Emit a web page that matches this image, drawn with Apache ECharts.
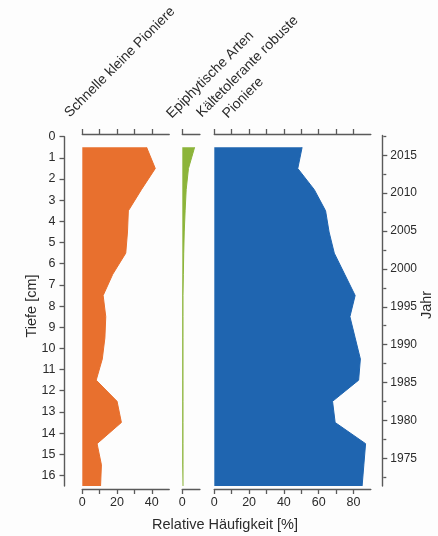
<!DOCTYPE html>
<html><head><meta charset="utf-8">
<script src="https://cdn.jsdelivr.net/npm/echarts@6/dist/echarts.min.js"></script>
<style>html,body{margin:0;padding:0;background:#fdfdfd}#c{width:438px;height:536px}</style>
</head><body><div id="c"></div>
<script>
// depth (cm) of each sample
const depths = ['0.5','1.5','2.5','3.5','4.5','5.5','6.5','7.5','8.5','9.5','10.5','11.5','12.5','13.5','14.5','15.5','16.5'];
// relative abundance [%]
const schnellePioniere = [37, 42, 34, 26.5, 26, 25, 17.5, 12, 13.5, 13, 11.5, 8, 20, 22.5, 8.5, 11, 10.5];
const epiphytischeArten = [7, 3.5, 2.2, 1.6, 1.1, 0.8, 0.6, 0.4, 0.4, 0.4, 0.4, 0.4, 0.4, 0.4, 0.4, 0.4, 0.4];
const kaelteRobustePioniere = [50.5, 48, 57.5, 64, 66, 69, 75, 81, 78, 81, 84, 83, 68, 69.5, 87, 86, 85];
// tick labels
const depthTicks = [0,1,2,3,4,5,6,7,8,9,10,11,12,13,14,15,16];
const yearMajor = [1975,1980,1985,1990,1995,2000,2005,2010,2015];
const yearMinor = [1972.5,1977.5,1982.5,1987.5,1992.5,1997.5,2002.5,2007.5,2012.5,2017.5];
const orangeTicks = [0,10,20,30,40];
const orangeLabels = [0,20,40];
const greenTicks = [0];
const blueTicks = [0,10,20,30,40,50,60,70,80];
const blueLabels = [0,20,40,60,80];

const FONT = '"Liberation Sans", Arial, sans-serif';
const AX = '#5a5a5a';
const TXT = '#2b2b2b';
const C_OR = '#E8702E', C_GR = '#8CB43A', C_BL = '#1F65B0';
const plain = v => String(v);

const chart = echarts.init(document.getElementById('c'), null, {renderer: 'canvas'});

function bottomAxis(grid, max, ticks, labels) {
  return {
    type: 'value', gridIndex: grid, position: 'bottom', offset: 3, min: 0, max: max,
    axisLine: {show: true, lineStyle: {color: AX, width: 1.4}},
    axisTick: {show: true, customValues: ticks, length: 5, lineStyle: {color: AX, width: 1.3}},
    axisLabel: {show: true, customValues: labels, formatter: plain, margin: 7, fontSize: 12.5, color: TXT, fontFamily: FONT},
    splitLine: {show: false}
  };
}
function topAxis(grid, max, ticks, offset) {
  return {
    type: 'value', gridIndex: grid, position: 'top', offset: offset, min: 0, max: max,
    axisLine: {show: true, lineStyle: {color: AX, width: 1.4}},
    axisTick: {show: true, customValues: ticks, length: 5, lineStyle: {color: AX, width: 1.3}},
    axisLabel: {show: false},
    splitLine: {show: false}
  };
}
function catAxis(grid) {
  return {type: 'category', gridIndex: grid, data: depths, inverse: true, boundaryGap: false, show: false};
}
function area(name, xi, yi, data, color, lw) {
  return {
    name: name, type: 'line', xAxisIndex: xi, yAxisIndex: yi, data: data,
    symbol: 'none', smooth: false, silent: true, animation: false,
    lineStyle: {color: color, width: lw},
    areaStyle: {color: color, opacity: 1}
  };
}

const panelTop = 147.3, panelBottom = 486;
const option = {
  backgroundColor: '#fdfdfd',
  animation: false,
  textStyle: {fontFamily: FONT},
  grid: [
    {left: 64.5, top: 136.7, width: 1, height: panelBottom - 136.7, outerBoundsMode: 'none', containLabel: false},
    {left: 82.3, top: panelTop, width: 86.9, height: panelBottom - panelTop, outerBoundsMode: 'none', containLabel: false},
    {left: 182.3, top: panelTop, width: 17.6, height: panelBottom - panelTop, outerBoundsMode: 'none', containLabel: false},
    {left: 214.3, top: panelTop, width: 156.5, height: panelBottom - panelTop, outerBoundsMode: 'none', containLabel: false},
    {left: 382.3, top: 135.5, width: 1, height: panelBottom - 135.5, outerBoundsMode: 'none', containLabel: false}
  ],
  xAxis: [
    {type: 'value', gridIndex: 0, show: false, min: 0, max: 1},
    bottomAxis(1, 50, orangeTicks, orangeLabels),
    topAxis(1, 50, orangeTicks, 13.3),
    bottomAxis(2, 10, greenTicks, greenTicks),
    topAxis(2, 10, greenTicks, 13.3),
    bottomAxis(3, 90, blueTicks, blueLabels),
    topAxis(3, 90, blueTicks, 13.3),
    {type: 'value', gridIndex: 4, show: false, min: 0, max: 1}
  ],
  yAxis: [
    {
      type: 'value', gridIndex: 0, position: 'left', inverse: true, min: 0, max: 16.5,
      axisLine: {show: true, lineStyle: {color: AX, width: 1.4}},
      axisTick: {show: true, customValues: depthTicks, length: 5, lineStyle: {color: AX, width: 1.3}},
      axisLabel: {show: true, customValues: depthTicks, formatter: plain, margin: 9, fontSize: 12.5, color: TXT, fontFamily: FONT},
      splitLine: {show: false}
    },
    catAxis(1), catAxis(2), catAxis(3),
    {
      type: 'value', gridIndex: 4, position: 'right', min: 1971.35, max: 2017.6,
      axisLine: {show: true, lineStyle: {color: AX, width: 1.4}},
      axisTick: {show: true, customValues: yearMajor, length: 5, lineStyle: {color: AX, width: 1.3}},
      axisLabel: {show: true, customValues: yearMajor, formatter: plain, margin: 7, fontSize: 12, color: TXT, fontFamily: FONT},
      splitLine: {show: false}
    },
    {
      type: 'value', gridIndex: 4, position: 'right', min: 1971.35, max: 2017.6,
      axisLine: {show: false},
      axisTick: {show: true, customValues: yearMinor, length: 3, lineStyle: {color: AX, width: 1.3}},
      axisLabel: {show: false},
      splitLine: {show: false}
    }
  ],
  series: [
    area('Schnelle kleine Pioniere', 1, 1, schnellePioniere, C_OR, 1),
    area('Epiphytische Arten', 3, 2, epiphytischeArten, C_GR, 1),
    area('Kältetolerante robuste Pioniere', 5, 3, kaelteRobustePioniere, C_BL, 1)
  ],
  graphic: [
    {type: 'text', x: 72, y: 120, rotation: Math.PI / 4, style: {text: 'Schnelle kleine Pioniere', fill: TXT, font: '14px ' + FONT, align: 'left', verticalAlign: 'bottom'}},
    {type: 'text', x: 174, y: 121, rotation: Math.PI / 4, style: {text: 'Epiphytische Arten', fill: TXT, font: '14px ' + FONT, align: 'left', verticalAlign: 'bottom'}},
    {type: 'text', x: 204, y: 120, rotation: Math.PI / 4, style: {text: 'Kältetolerante robuste', fill: TXT, font: '14px ' + FONT, align: 'left', verticalAlign: 'bottom'}},
    {type: 'text', x: 230, y: 121, rotation: Math.PI / 4, style: {text: 'Pioniere', fill: TXT, font: '14px ' + FONT, align: 'left', verticalAlign: 'bottom'}},
    {type: 'text', x: 32, y: 306, rotation: Math.PI / 2, style: {text: 'Tiefe [cm]', fill: TXT, font: '14.5px ' + FONT, align: 'center', verticalAlign: 'middle'}},
    {type: 'text', x: 427, y: 305, rotation: Math.PI / 2, style: {text: 'Jahr', fill: TXT, font: '14.5px ' + FONT, align: 'center', verticalAlign: 'middle'}},
    {type: 'text', x: 225, y: 525, style: {text: 'Relative Häufigkeit [%]', fill: TXT, font: '14.5px ' + FONT, align: 'center', verticalAlign: 'middle'}}
  ]
};
chart.setOption(option);
</script>
</body></html>
